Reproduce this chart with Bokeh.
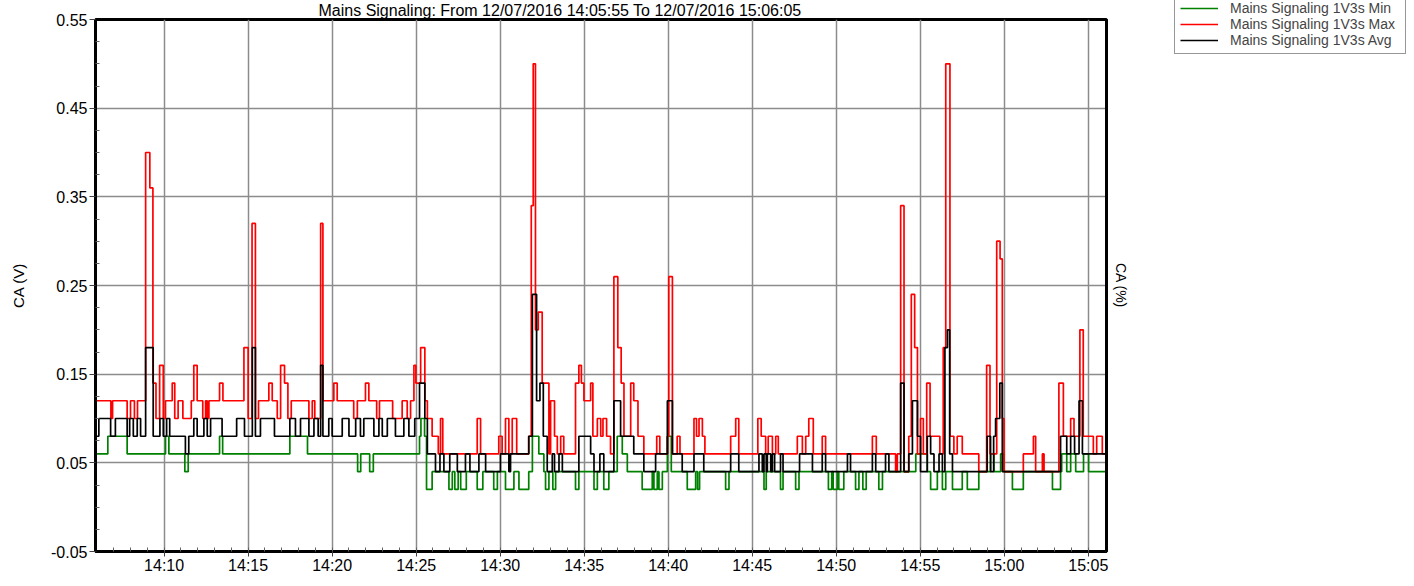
import pandas as pd
from bokeh.plotting import figure
from bokeh.models import (Range1d, LinearAxis, FixedTicker, DatetimeTickFormatter,
                          PrintfTickFormatter, ColumnDataSource, Legend, LegendItem)
from bokeh.embed import file_html
from bokeh.resources import INLINE

# ---------------- data ----------------
DAY = "2016-12-07"
START = "14:05:55"
END = "15:06:05"
TITLE = "Mains Signaling: From 12/07/2016 14:05:55 To 12/07/2016 15:06:05"

# change points: seconds after START, value held until next change point (V)
max_t = [0, 55, 61, 113, 125, 139, 150, 179, 194, 205, 216, 229, 242, 250, 274, 283, 295, 312,
         342, 351, 363, 383, 393, 399, 405, 443, 455, 530, 545, 559, 571, 582, 619, 631, 649,
         661, 675, 687, 699, 762, 774, 783, 804, 812, 851, 863, 922, 935, 964, 976, 1004, 1014,
         1061, 1095, 1113, 1125, 1137, 1144, 1161, 1176, 1185, 1202, 1224, 1232, 1240, 1363,
         1375, 1440, 1452, 1464, 1476, 1488, 1504, 1547, 1556, 1563, 1571, 1581, 1595, 1619,
         1625, 1639, 1649, 1661, 1672, 1714, 1726, 1735, 1744, 1768, 1776, 1792, 1804, 1812,
         1825, 1839, 1851, 1865, 1877, 1887, 1911, 1922, 1937, 1958, 2004, 2015, 2042, 2047,
         2060, 2077, 2087, 2137, 2146, 2155, 2167, 2176, 2268, 2286, 2297, 2365, 2377, 2393,
         2402, 2417, 2429, 2438, 2506, 2524, 2536, 2547, 2563, 2595, 2607, 2774, 2788, 2857,
         2863, 2875, 2887, 2904, 2913, 2925, 2935, 2946, 2956, 2968, 2980, 3015, 3027, 3036,
         3051, 3065, 3077, 3095, 3154, 3182, 3194, 3218, 3230, 3238, 3244, 3313, 3349, 3357,
         3381, 3387, 3440, 3456, 3482, 3494, 3515, 3527, 3563, 3575, 3595, 3610]
max_v = [0.12, 0.10, 0.12, 0.10, 0.12, 0.10, 0.12, 0.40, 0.36, 0.14, 0.10, 0.16, 0.10, 0.12,
         0.14, 0.10, 0.12, 0.10, 0.12, 0.16, 0.12, 0.10, 0.12, 0.10, 0.12, 0.14, 0.12, 0.18,
         0.10, 0.32, 0.10, 0.12, 0.14, 0.12, 0.10, 0.16, 0.14, 0.10, 0.12, 0.10, 0.12, 0.10,
         0.32, 0.12, 0.14, 0.12, 0.10, 0.12, 0.14, 0.12, 0.10, 0.12, 0.10, 0.12, 0.10, 0.12,
         0.16, 0.14, 0.18, 0.12, 0.10, 0.08, 0.06, 0.10, 0.06, 0.10, 0.06, 0.08, 0.06, 0.10,
         0.06, 0.10, 0.06, 0.08, 0.34, 0.50, 0.20, 0.22, 0.14, 0.06, 0.12, 0.08, 0.06, 0.08,
         0.06, 0.14, 0.16, 0.14, 0.12, 0.14, 0.08, 0.10, 0.08, 0.10, 0.08, 0.06, 0.26, 0.18,
         0.14, 0.08, 0.14, 0.12, 0.08, 0.06, 0.08, 0.06, 0.08, 0.26, 0.06, 0.08, 0.06, 0.10,
         0.08, 0.10, 0.08, 0.06, 0.08, 0.10, 0.06, 0.10, 0.08, 0.06, 0.08, 0.06, 0.08, 0.06,
         0.08, 0.06, 0.08, 0.10, 0.06, 0.08, 0.06, 0.08, 0.06, 0.04, 0.06, 0.34, 0.04, 0.08,
         0.24, 0.18, 0.06, 0.10, 0.06, 0.14, 0.08, 0.06, 0.18, 0.50, 0.08, 0.06, 0.08, 0.06,
         0.04, 0.16, 0.06, 0.30, 0.28, 0.10, 0.04, 0.06, 0.08, 0.04, 0.06, 0.04, 0.14, 0.08,
         0.10, 0.08, 0.20, 0.08, 0.06, 0.08, 0.06, 0.06]

avg_t = [0, 12, 54, 71, 113, 122, 135, 149, 161, 179, 206, 230, 242, 254, 265, 321, 333, 351,
         363, 387, 399, 411, 452, 504, 532, 560, 571, 589, 639, 694, 714, 732, 762, 780, 795,
         804, 812, 833, 845, 881, 905, 929, 946, 958, 994, 1012, 1024, 1042, 1071, 1101, 1119,
         1140, 1157, 1176, 1185, 1214, 1230, 1244, 1265, 1292, 1321, 1337, 1369, 1393, 1446,
         1476, 1482, 1547, 1560, 1575, 1587, 1599, 1613, 1631, 1639, 1655, 1667, 1726, 1768,
         1780, 1801, 1815, 1851, 1875, 1922, 1958, 2000, 2042, 2060, 2095, 2137, 2172, 2268,
         2297, 2369, 2381, 2387, 2395, 2399, 2411, 2417, 2425, 2446, 2455, 2514, 2560, 2595,
         2607, 2685, 2696, 2774, 2786, 2821, 2833, 2875, 2887, 2904, 2917, 2935, 2946, 2970,
         2982, 2994, 3012, 3024, 3033, 3042, 3050, 3060, 3184, 3196, 3207, 3214, 3229, 3238,
         3446, 3468, 3482, 3496, 3512, 3524, 3610]
avg_v = [0.08, 0.10, 0.08, 0.10, 0.08, 0.10, 0.08, 0.10, 0.08, 0.18, 0.08, 0.10, 0.08, 0.10,
         0.08, 0.06, 0.08, 0.10, 0.08, 0.10, 0.08, 0.10, 0.08, 0.10, 0.08, 0.18, 0.08, 0.10,
         0.08, 0.10, 0.08, 0.10, 0.08, 0.10, 0.08, 0.16, 0.08, 0.10, 0.08, 0.10, 0.08, 0.10,
         0.08, 0.10, 0.08, 0.10, 0.08, 0.10, 0.08, 0.10, 0.08, 0.10, 0.14, 0.10, 0.06, 0.04,
         0.06, 0.04, 0.06, 0.04, 0.06, 0.04, 0.06, 0.04, 0.06, 0.04, 0.06, 0.08, 0.24, 0.12,
         0.14, 0.08, 0.04, 0.06, 0.04, 0.06, 0.04, 0.08, 0.06, 0.04, 0.06, 0.04, 0.12, 0.08,
         0.06, 0.04, 0.06, 0.12, 0.06, 0.04, 0.06, 0.04, 0.06, 0.04, 0.06, 0.04, 0.06, 0.04,
         0.06, 0.04, 0.06, 0.04, 0.06, 0.04, 0.06, 0.04, 0.06, 0.04, 0.06, 0.04, 0.06, 0.04,
         0.06, 0.04, 0.14, 0.04, 0.06, 0.12, 0.08, 0.04, 0.08, 0.06, 0.04, 0.06, 0.04, 0.18,
         0.20, 0.06, 0.04, 0.08, 0.04, 0.08, 0.10, 0.14, 0.04, 0.08, 0.06, 0.08, 0.06, 0.12,
         0.06, 0.06]

min_t = [0, 44, 113, 250, 262, 319, 331, 443, 454, 694, 757, 936, 947, 979, 992, 1157, 1162,
         1175, 1182, 1202, 1262, 1274, 1283, 1295, 1304, 1324, 1363, 1383, 1422, 1435, 1464,
         1494, 1512, 1547, 1560, 1583, 1601, 1607, 1619, 1633, 1643, 1714, 1726, 1780, 1792,
         1815, 1833, 1863, 1881, 1899, 1952, 1988, 1994, 2006, 2012, 2024, 2042, 2056, 2113,
         2143, 2150, 2157, 2250, 2262, 2387, 2395, 2446, 2455, 2500, 2512, 2617, 2629, 2634,
         2649, 2654, 2672, 2714, 2726, 2740, 2752, 2797, 2810, 2929, 2970, 2982, 3006, 3024,
         3036, 3060, 3095, 3113, 3154, 3196, 3208, 3232, 3244, 3274, 3313, 3417, 3446, 3450,
         3468, 3482, 3500, 3528, 3546, 3610]
min_v = [0.06, 0.08, 0.06, 0.08, 0.06, 0.04, 0.06, 0.08, 0.06, 0.08, 0.06, 0.04, 0.06, 0.04,
         0.06, 0.08, 0.10, 0.08, 0.02, 0.04, 0.02, 0.04, 0.02, 0.04, 0.02, 0.04, 0.02, 0.04,
         0.02, 0.04, 0.02, 0.04, 0.02, 0.04, 0.08, 0.06, 0.04, 0.02, 0.04, 0.02, 0.04, 0.02,
         0.04, 0.02, 0.04, 0.02, 0.04, 0.08, 0.06, 0.04, 0.02, 0.04, 0.02, 0.04, 0.02, 0.04,
         0.08, 0.04, 0.02, 0.04, 0.02, 0.04, 0.02, 0.04, 0.02, 0.04, 0.02, 0.04, 0.02, 0.04,
         0.02, 0.04, 0.02, 0.04, 0.02, 0.04, 0.02, 0.04, 0.02, 0.04, 0.02, 0.04, 0.06, 0.04,
         0.02, 0.04, 0.02, 0.04, 0.02, 0.04, 0.02, 0.04, 0.06, 0.04, 0.06, 0.04, 0.02, 0.04,
         0.02, 0.04, 0.06, 0.04, 0.06, 0.04, 0.06, 0.04, 0.04]

series_labels = ["Mains Signaling 1V3s Min", "Mains Signaling 1V3s Max", "Mains Signaling 1V3s Avg"]
series_colors = ["#008000", "#FF0000", "#000000"]

x_tick_labels = ["14:10", "14:15", "14:20", "14:25", "14:30", "14:35", "14:40", "14:45",
                 "14:50", "14:55", "15:00", "15:05"]
y_ticks = [-0.05, 0.05, 0.15, 0.25, 0.35, 0.45, 0.55]
y_minor = [-0.025, 0.0, 0.025, 0.075, 0.1, 0.125, 0.175, 0.2, 0.225, 0.275, 0.3, 0.325,
           0.375, 0.4, 0.425, 0.475, 0.5, 0.525]
y_label = "CA (V)"
y2_label = "CA (%)"

# ---------------- build ----------------
t0 = pd.Timestamp(f"{DAY} {START}")
t1 = pd.Timestamp(f"{DAY} {END}")


def to_dt(secs):
    return [t0 + pd.Timedelta(seconds=s) for s in secs]


FONT = "Liberation Sans"

p = figure(x_axis_type="datetime", frame_width=1011, frame_height=532,
           min_border_left=95, min_border_right=299, min_border_top=19, min_border_bottom=33,
           x_range=Range1d(t0, t1), y_range=Range1d(-0.05, 0.55),
           output_backend="svg", toolbar_location=None)
p.background_fill_color = "white"
p.border_fill_color = "white"
p.outline_line_color = "black"
p.outline_line_width = 3

p.title.text = TITLE
p.title.text_font = FONT
p.title.text_font_size = "16px"
p.title.text_font_style = "normal"
p.title.text_color = "black"
p.title.align = "left"
p.title.offset = 223
p.title.standoff = 0
p.title.vertical_align = "middle"

x_major = [pd.Timestamp(f"{DAY} {l}").value / 1e6 for l in x_tick_labels]
x_minor = [ts.value / 1e6 for ts in pd.date_range(t0.ceil("min"), t1, freq="1min")]
xt = FixedTicker(ticks=x_major, minor_ticks=x_minor)
yt = FixedTicker(ticks=y_ticks, minor_ticks=y_minor)

p.xaxis.ticker = xt
p.xgrid.ticker = xt
p.yaxis.ticker = yt
p.ygrid.ticker = yt
fmt = "%H:%M"
p.xaxis.formatter = DatetimeTickFormatter(seconds=fmt, minsec=fmt, minutes=fmt, hourmin=fmt,
                                          hours=fmt, days=fmt)
p.yaxis.formatter = PrintfTickFormatter(format="%.2f")

for ax in (p.xaxis[0], p.yaxis[0]):
    ax.axis_line_width = 3
    ax.axis_line_color = "black"
    ax.major_tick_out = 6
    ax.major_tick_in = 0
    ax.minor_tick_out = 0
    ax.minor_tick_in = 4
    ax.major_tick_line_color = "#404040"
    ax.minor_tick_line_color = "#606060"
    ax.major_label_text_font = FONT
    ax.major_label_text_font_size = "16px"
    ax.major_label_text_color = "black"
    ax.axis_label_text_font = FONT
    ax.axis_label_text_font_style = "normal"
    ax.axis_label_text_font_size = "15px"
    ax.axis_label_text_color = "black"

p.xaxis.major_tick_out = 5
p.xaxis.major_label_standoff = 0
p.yaxis.major_label_standoff = 2
p.yaxis.axis_label = y_label
p.yaxis.axis_label_standoff = 21

right = LinearAxis(ticker=FixedTicker(ticks=[]), axis_label=y2_label,
                   axis_line_width=3, axis_line_color="black",
                   major_tick_out=0, major_tick_in=0, minor_tick_out=0, minor_tick_in=0,
                   axis_label_text_font=FONT, axis_label_text_font_style="normal",
                   axis_label_text_font_size="14px", axis_label_text_color="black",
                   axis_label_standoff=6)
p.add_layout(right, "right")

for g in (p.xgrid[0], p.ygrid[0]):
    g.grid_line_color = "#8c8c8c"
    g.grid_line_width = 1.5

renderers = []
for ts, vs, color in ((min_t, min_v, series_colors[0]), (max_t, max_v, series_colors[1]),
                      (avg_t, avg_v, series_colors[2])):
    src = ColumnDataSource(dict(x=to_dt(ts), y=vs))
    renderers.append(p.step("x", "y", source=src, mode="after", line_color=color,
                            line_width=1.7))

# legend in the right side panel, lifted to the top-right corner of the canvas
legend = Legend(items=[LegendItem(label=l, renderers=[r]) for l, r in zip(series_labels, renderers)],
                location=(-188, 497), orientation="vertical",
                label_text_font=FONT, label_text_font_size="14px",
                glyph_width=38, glyph_height=16, label_height=16, spacing=0,
                padding=5, margin=0, label_standoff=12, label_width=170,
                border_line_color="#303030", border_line_width=1,
                background_fill_color="white", background_fill_alpha=1.0)
p.add_layout(legend, "right")

open("out.html", "w").write(file_html(p, INLINE))
